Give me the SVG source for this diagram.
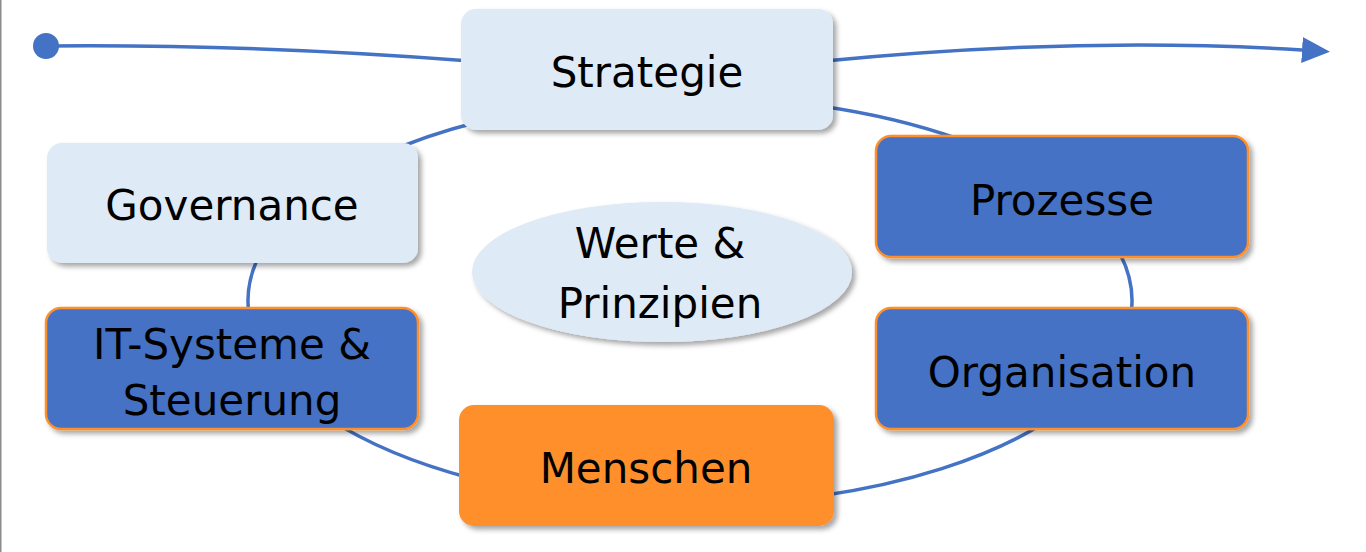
<svg xmlns="http://www.w3.org/2000/svg" width="1366" height="552" viewBox="0 0 1366 552">
<defs>
<filter id="sh" x="-10%" y="-10%" width="125%" height="135%">
<feDropShadow dx="3.5" dy="3.5" stdDeviation="2.5" flood-color="#000" flood-opacity="0.35"/>
</filter>
<marker id="arr" markerUnits="userSpaceOnUse" markerWidth="30" markerHeight="28" refX="0" refY="13" orient="auto">
<path d="M0,0 L28,13 L0,26 z" fill="#4472C4"/>
</marker>
<style>
.ln{fill:none;stroke:#4472C4;stroke-width:3.5}
.light{fill:#DEEAF6;filter:url(#sh)}
.dark{fill:#4472C4;stroke:#FF8F2B;stroke-width:2.5;filter:url(#sh)}
.orange{fill:#FF8F2B;filter:url(#sh)}
text{font-family:"DejaVu Sans",Verdana,sans-serif;font-size:42px;fill:#000;text-anchor:middle}
</style>
</defs>
<rect x="0" y="0" width="1.5" height="552" fill="#8c8c8c"/>
<g id="connectors">
<circle cx="46" cy="46" r="13" fill="#4472C4"/>
<path class="ln" d="M46,46 Q250,44 470,61"/>
<path class="ln" d="M825,61 Q1080,36 1302,50" marker-end="url(#arr)"/>
<path class="ln" d="M380,155.6 A442,204 0 0 1 480,121.5"/>
<path class="ln" d="M820,106 A442,204 0 0 1 960,139.5"/>
<path class="ln" d="M1118,250 A442,204 0 0 1 1130.5,318"/>
<path class="ln" d="M1040,425.6 A442,204 0 0 1 820,496"/>
<path class="ln" d="M470,478 A442,204 0 0 1 330,419.4"/>
<path class="ln" d="M249.5,318 A442,204 0 0 1 260.4,253"/>
</g>
<g id="strategie">
<rect class="light" x="461" y="9" width="372" height="121" rx="15"/>
<text x="647" y="87">Strategie</text>
</g>
<g id="governance">
<rect class="light" x="47" y="143" width="371" height="120" rx="15"/>
<text x="232" y="220">Governance</text>
</g>
<g id="it-systeme">
<rect class="dark" x="46" y="308" width="372" height="121" rx="15"/>
<text x="232" y="359">IT-Systeme &amp;</text>
<text x="232" y="415">Steuerung</text>
</g>
<g id="prozesse">
<rect class="dark" x="876" y="136" width="372" height="121" rx="15"/>
<text x="1062" y="215">Prozesse</text>
</g>
<g id="organisation">
<rect class="dark" x="876" y="308" width="372" height="121" rx="15"/>
<text x="1062" y="387">Organisation</text>
</g>
<g id="menschen">
<rect class="orange" x="459" y="405" width="375" height="121" rx="15"/>
<text x="646" y="483">Menschen</text>
</g>
<g id="werte">
<ellipse class="light" cx="662" cy="272" rx="190" ry="70"/>
<text x="660" y="258">Werte &amp;</text>
<text x="660" y="318">Prinzipien</text>
</g>
</svg>
